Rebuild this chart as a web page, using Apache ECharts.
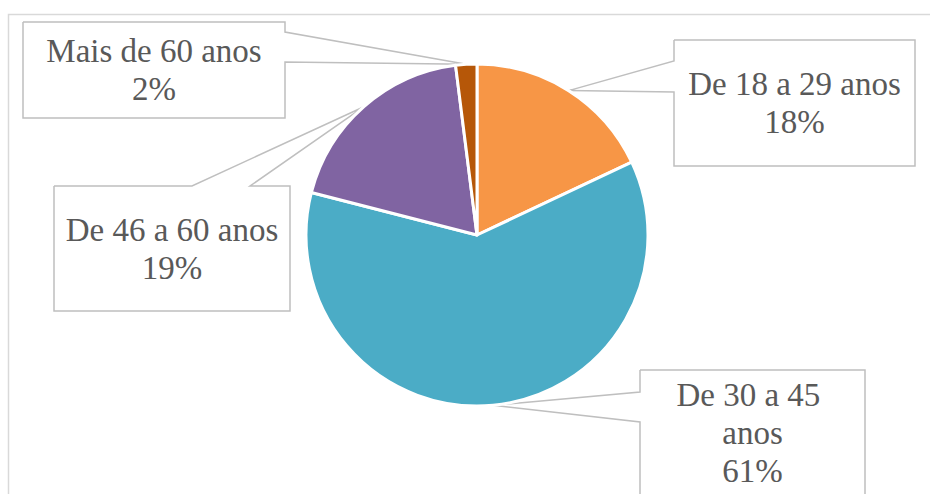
<!DOCTYPE html>
<html>
<head>
<meta charset="utf-8">
<script src="https://cdn.jsdelivr.net/npm/echarts@6/dist/echarts.min.js"></script>
<style>
  html, body { margin: 0; padding: 0; background: #ffffff; }
  #chart { width: 930px; height: 494px; }
</style>
</head>
<body>
<div id="chart"></div>
<script>
// Age groups and their share of respondents (%)
const ageGroups = ['De 18 a 29 anos', 'De 30 a 45 anos', 'De 46 a 60 anos', 'Mais de 60 anos'];
const shares = [18, 61, 19, 2];
const sliceColors = ['#F79646', '#4BACC6', '#8064A2', '#B65708'];

// Callout boxes: rectangle plus the side where the pointer wedge leaves the box
const calloutBoxes = [
  { x: 674, y: 40,  w: 241, h: 126, side: 'left',  a: 61,  b: 92 },
  { x: 640, y: 370, w: 225, h: 126, side: 'left',  a: 392, b: 422 },
  { x: 54,  y: 186, w: 236, h: 125, side: 'top',   a: 192, b: 250 },
  { x: 23,  y: 22,  w: 262, h: 96,  side: 'right', a: 32,  b: 62 }
];

// Outline of a callout (box with a wedge pointing at `tip`), traced clockwise
function calloutOutline(box, tip) {
  const L = box.x, T = box.y, R = box.x + box.w, B = box.y + box.h;
  const pts = [[L, T]];
  if (box.side === 'top') pts.push([box.a, T], tip, [box.b, T]);
  pts.push([R, T]);
  if (box.side === 'right') pts.push([R, box.a], tip, [R, box.b]);
  pts.push([R, B]);
  if (box.side === 'bottom') pts.push([box.b, B], tip, [box.a, B]);
  pts.push([L, B]);
  if (box.side === 'left') pts.push([L, box.b], tip, [L, box.a]);
  pts.push([L, T]);
  return pts;
}

const chart = echarts.init(document.getElementById('chart'), null, { renderer: 'svg' });

const pieData = ageGroups.map((name, i) => ({
  name: name,
  value: shares[i],
  itemStyle: { color: sliceColors[i] },
  label: { width: calloutBoxes[i].w - 18, overflow: 'break' }
}));

chart.setOption({
  backgroundColor: '#ffffff',
  animation: false,
  graphic: [{
    type: 'rect',
    z: -10,
    shape: { x: 8.5, y: 14.5, width: 1000, height: 1000 },
    style: { fill: 'none', stroke: '#D9D9D9', lineWidth: 1.5 }
  }],
  series: [{
    type: 'pie',
    center: [477, 235],
    radius: [0, 171],
    startAngle: 90,
    clockwise: true,
    avoidLabelOverlap: false,
    data: pieData,
    itemStyle: { borderColor: '#ffffff', borderWidth: 3 },
    label: {
      show: true,
      position: 'outside',
      formatter: p => p.name + '\n' + p.value + '%',
      fontFamily: '"Liberation Serif", serif',
      fontSize: 33,
      lineHeight: 38,
      color: '#595959',
      align: 'center'
    },
    labelLine: {
      show: true,
      length: 10,
      length2: 10,
      lineStyle: { color: '#BFBFBF', width: 1.5 }
    },
    labelLayout: function (params) {
      const box = calloutBoxes[params.dataIndex];
      const tip = params.labelLinePoints ? params.labelLinePoints[0] : [box.x, box.y];
      return {
        x: box.x + box.w / 2,
        y: box.y + box.h / 2,
        align: 'center',
        verticalAlign: 'middle',
        labelLinePoints: calloutOutline(box, [tip[0], tip[1]])
      };
    },
    emphasis: { disabled: true }
  }]
});
</script>
</body>
</html>
